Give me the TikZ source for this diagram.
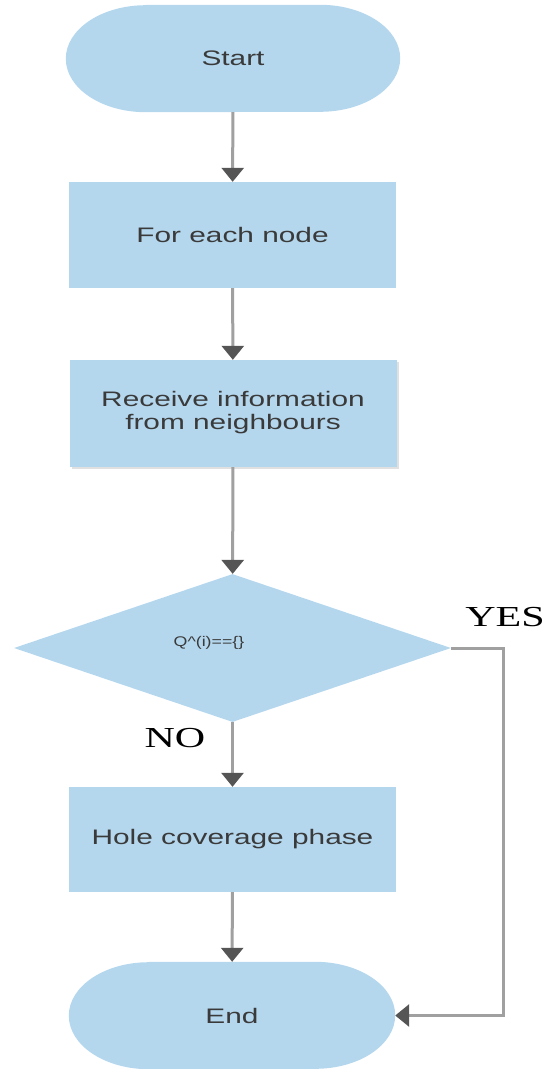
\documentclass[tikz,border=0pt]{standalone}
\usepackage{fontspec}
\setmainfont{Liberation Sans}
\newfontfamily\labelserif{Liberation Serif}
\usetikzlibrary{arrows.meta,shapes.geometric,backgrounds,shadows}
\definecolor{boxblue}{HTML}{B4D7EE}
\definecolor{txtgray}{HTML}{3A3A3A}
\definecolor{linegray}{HTML}{A0A0A0}
\definecolor{tipgray}{HTML}{555555}
\newcommand{\wide}[2][1.42]{\scalebox{#1}[1]{#2}}
\tikzset{
  boxtext/.style={text=txtgray, font=\fontsize{21}{23}\selectfont, align=center, inner sep=0pt},
  procbox/.style={boxtext, fill=boxblue, minimum width=327pt, minimum height=106pt},
  termbox/.style={boxtext, minimum width=#1, minimum height=107pt},
  flow/.style={draw=linegray, line width=3pt, -{Triangle[width=22pt,length=14pt,color=tipgray]}},
  answer/.style={font=\labelserif\fontsize{29}{32}\selectfont, text=black, inner sep=0pt},
}
\begin{document}
\begin{tikzpicture}[x=1pt,y=1pt]
\useasboundingbox (0,0) rectangle (548,-1069);
% nodes
\node[termbox=334pt] (start) at (233,-58.5) {\wide{Start}};
\node[procbox] (each) at (232.5,-235) {\wide{For each node}};
\node[procbox, minimum height=107pt, drop shadow={shadow xshift=2pt, shadow yshift=-2pt, fill=black, opacity=0.12}] (recv) at (233,-413.5)
  {\wide{\begin{tabular}{@{}c@{}}Receive information\\from neighbours\end{tabular}}};
\node[diamond, fill=boxblue, inner sep=0pt, minimum width=437pt, minimum height=148pt] (dec) at (232.5,-648) {};
\node[text=txtgray, inner sep=0pt, font=\fontsize{14}{16}\selectfont] (cond) at (209,-643)
  {\wide[1.27]{Q\textasciicircum(i)==\{\}}};
\node[procbox, minimum height=105pt] (hole) at (232.5,-839.5) {\wide{Hole coverage phase}};
\node[termbox=326pt] (end) at (232,-1015.5) {\wide{End}};
% stadium backgrounds
\begin{scope}[on background layer]
  \fill[boxblue] ([xshift=80pt]start.north west) -- ([xshift=-80pt]start.north east)
    arc[start angle=90, end angle=-90, x radius=80pt, y radius=53.5pt]
    -- ([xshift=80pt]start.south west)
    arc[start angle=270, end angle=90, x radius=80pt, y radius=53.5pt] -- cycle;
  \fill[boxblue] ([xshift=80pt]end.north west) -- ([xshift=-80pt]end.north east)
    arc[start angle=90, end angle=-90, x radius=80pt, y radius=53.5pt]
    -- ([xshift=80pt]end.south west)
    arc[start angle=270, end angle=90, x radius=80pt, y radius=53.5pt] -- cycle;
\end{scope}
% labels
\node[answer] (yes) at (505,-617) {\wide[1.45]{YES}};
\node[answer] (no) at (175,-738) {\wide[1.45]{NO}};
% connectors
\draw[flow] (start) -- (each);
\draw[flow] (each) -- (recv);
\draw[flow] (recv) -- (dec);
\draw[flow] (dec) -- (hole);
\draw[flow] (hole) -- (end);
\draw[flow] (dec.east) -- ++(52,0) |- (end.east);
\end{tikzpicture}
\end{document}
